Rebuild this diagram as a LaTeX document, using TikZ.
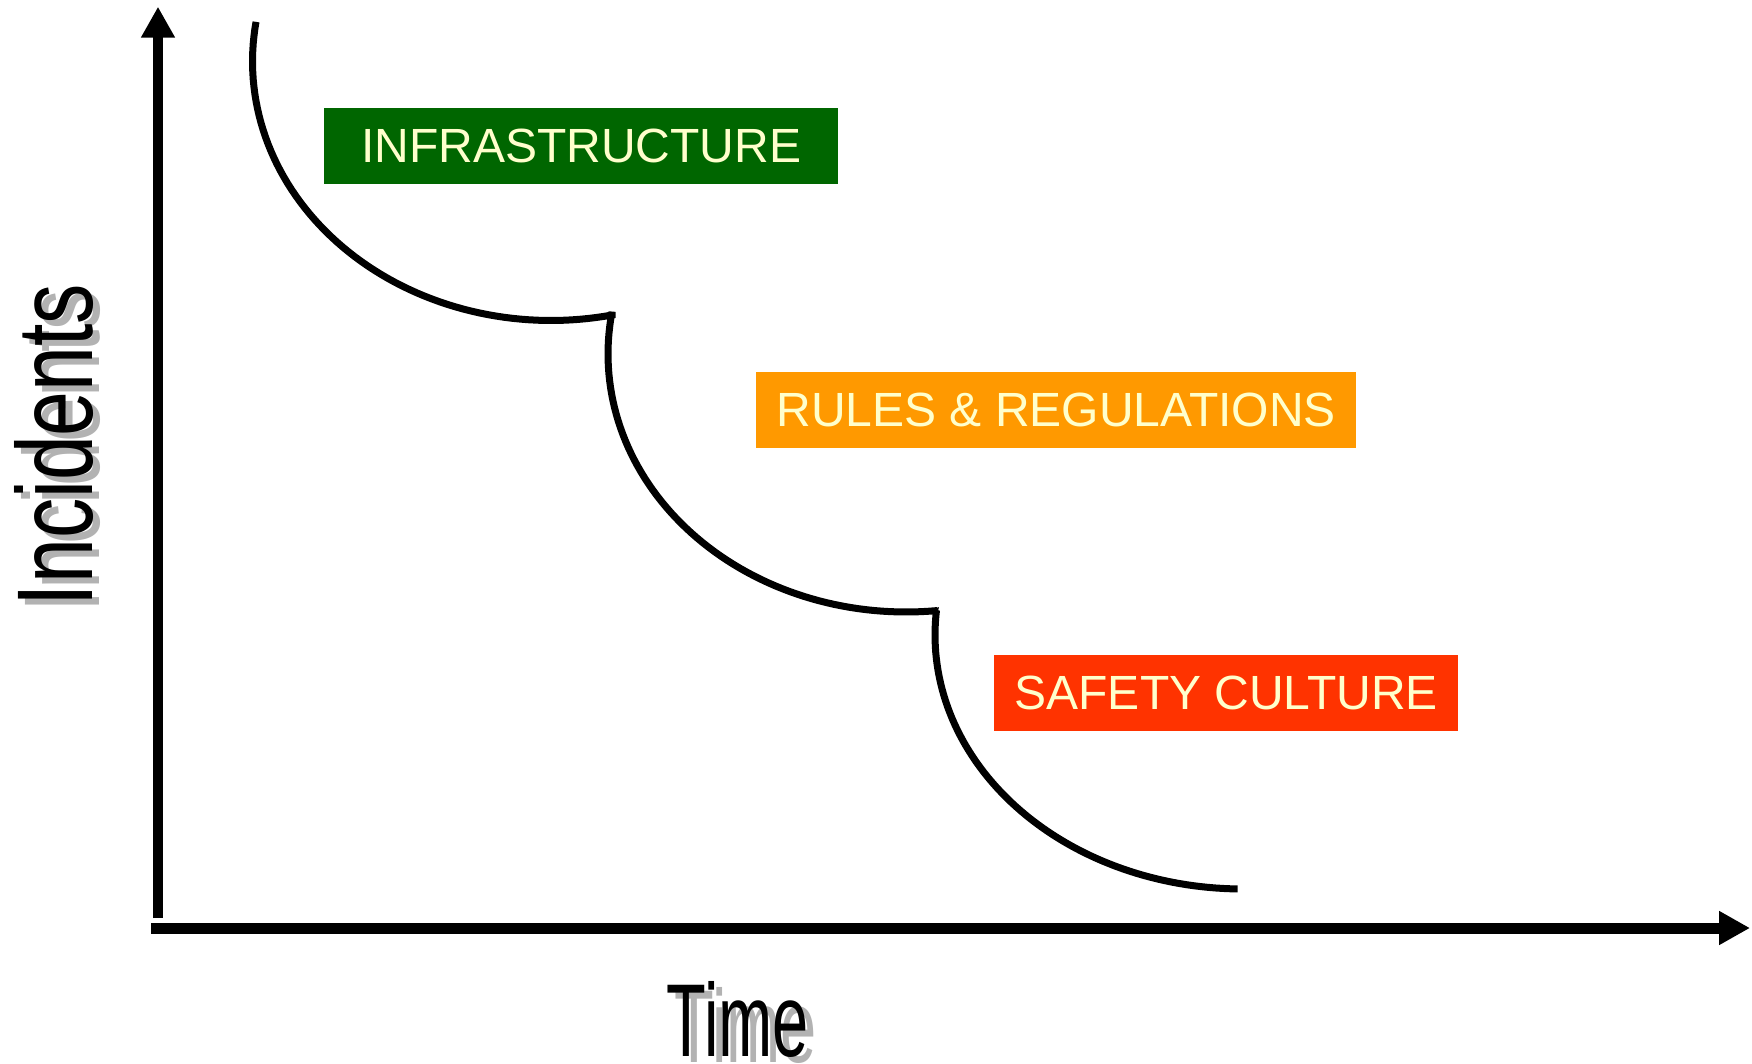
\documentclass[tikz,border=0pt]{standalone}
\usepackage{fontspec}
\setmainfont{Liberation Sans}
\usetikzlibrary{arrows.meta}
\definecolor{infragreen}{RGB}{0,102,0}
\definecolor{rulesorange}{RGB}{255,153,0}
\definecolor{safetyred}{RGB}{255,51,0}
\definecolor{labeltext}{RGB}{255,255,204}
\definecolor{shadowgray}{RGB}{178,178,178}
\begin{document}
\begin{tikzpicture}[x=1pt,y=-1pt,
  axisline/.style={line width=#1, -{Triangle[length=31pt,width=32pt]}},
  curveline/.style={line width=7pt, line join=miter, miter limit=1.6, line cap=butt},
  labelbox/.style={fill=#1, text=labeltext, inner sep=0pt, minimum height=76pt,
    anchor=north west, font=\fontsize{48}{58}\selectfont},
  axistitle/.style={inner sep=0pt, text=#1}]
\useasboundingbox (0,0) rectangle (1752,1064);

% axes
\coordinate (yb) at (158,918);
\coordinate (yt) at (158,6.7);
\coordinate (xl) at (151,928);
\coordinate (xr) at (1750,928);
\draw[axisline=10pt] (yb) -- (yt);
\draw[axisline=11pt] (xl) -- (xr);

% stepped curve
\draw[curveline]
  plot[domain=0:110.6, samples=70] ({551+298.5*cos(188.8-\x)},{61.5+259*sin(188.8-\x)})
  -- plot[domain=0:105.4, samples=70] ({906+298*cos(189.4-\x)},{354+258*sin(189.4-\x)})
  -- plot[domain=0:94.6, samples=70] ({1243+308*cos(185.6-\x)},{635+254*sin(185.6-\x)});

% label boxes
\node[labelbox=infragreen, minimum width=514pt] (infra) at (324,108) {INFRASTRUCTURE};
\node[labelbox=rulesorange, minimum width=600pt] (rules) at (756,372) {RULES \& REGULATIONS};
\node[labelbox=safetyred, minimum width=464pt] (safety) at (994,655) {SAFETY CULTURE};

% axis titles with shadows
\node[axistitle=shadowgray] (timeshadow) at (746,1025) {\resizebox{142pt}{75pt}{Time}};
\node[axistitle=black] (time) at (738,1019) {\resizebox{142pt}{75pt}{Time}};
\node[axistitle=shadowgray] (incshadow) at (61,451) {\rotatebox{90}{\resizebox{322pt}{78pt}{Incidents}}};
\node[axistitle=black] (inc) at (54,445) {\rotatebox{90}{\resizebox{322pt}{78pt}{Incidents}}};
\end{tikzpicture}
\end{document}
